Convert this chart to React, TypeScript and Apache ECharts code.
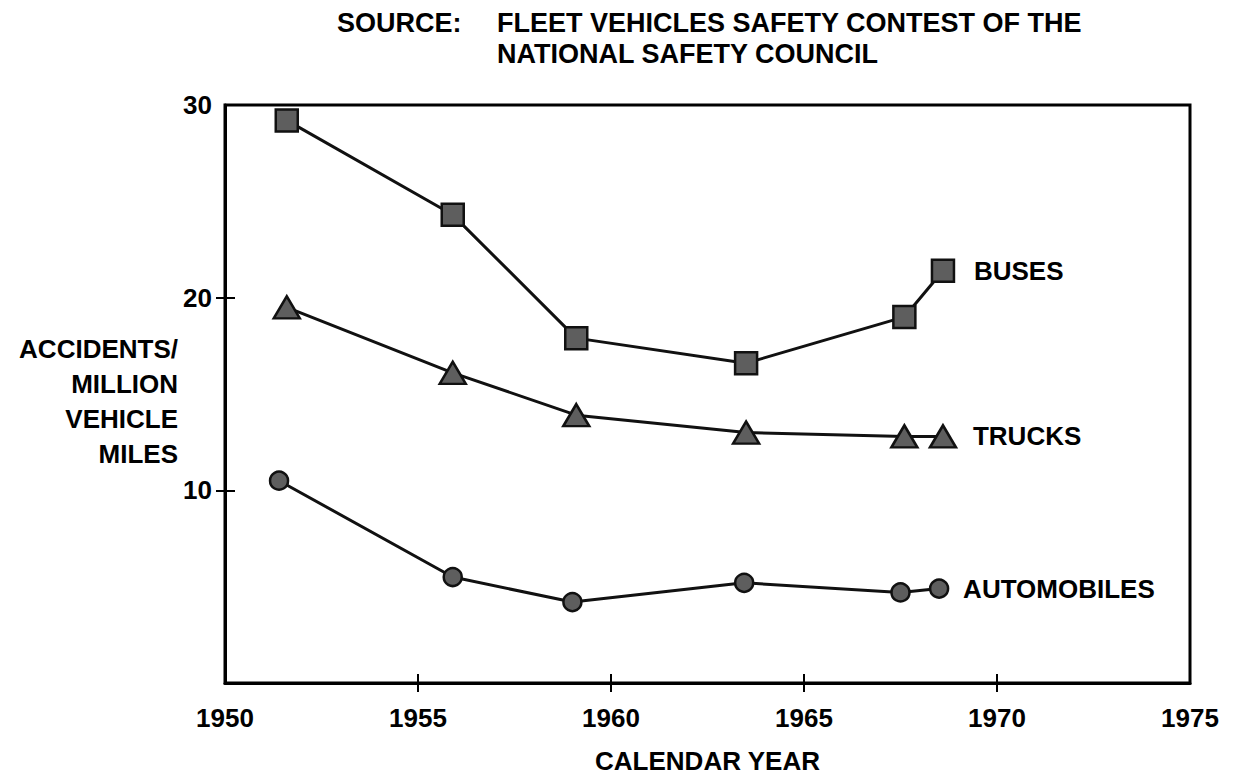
import { useEffect, useRef } from "react";
import * as echarts from "echarts";

// ---- data ----
const busYears = [1951.6, 1955.9, 1959.1, 1963.5, 1967.6, 1968.6];
const busValues = [29.2, 24.3, 17.9, 16.6, 19.0, 21.4];
const truckYears = [1951.6, 1955.9, 1959.1, 1963.5, 1967.6, 1968.6];
const truckValues = [19.5, 16.1, 13.9, 13.0, 12.8, 12.8];
const autoYears = [1951.4, 1955.9, 1959.0, 1963.45, 1967.5, 1968.5];
const autoValues = [10.5, 5.5, 4.2, 5.2, 4.7, 4.9];
const seriesNames = ["BUSES", "TRUCKS", "AUTOMOBILES"];
const xTickValues = [1955, 1960, 1965, 1970];
const yTickValues = [10, 20];
const yLabelValues = [10, 20, 30];
const sourceLabel = "SOURCE:";
const sourceText = "FLEET VEHICLES SAFETY CONTEST OF THE\nNATIONAL SAFETY COUNCIL";
const xAxisName = "CALENDAR YEAR";
const yAxisName = "ACCIDENTS/\nMILLION\nVEHICLE\nMILES";

const FONT = "'Liberation Sans', Arial, sans-serif";

function pairs(xs: number[], ys: number[]) {
  return xs.map((x, i) => [x, ys[i]]);
}

export default function App() {
  const ref = useRef<HTMLDivElement>(null);
  useEffect(() => {
    if (!ref.current) return;
    const chart = echarts.init(ref.current, null, { renderer: "svg" });
    const markerStyle = {
      color: "#5e5e5e",
      borderColor: "#111",
      borderWidth: 2.5,
    };
    const lineStyle = { color: "#111", width: 3 };
    const endLabel = (name: string, distance: number) => ({
      show: true,
      formatter: name,
      distance,
      fontSize: 26,
      fontWeight: "bold",
      color: "#000",
      fontFamily: FONT,
    });
    const tickStyle = { color: "#000", width: 2 };
    const option: any = {
      animation: false,
      backgroundColor: "#fff",
      title: [
        {
          text: sourceLabel,
          left: 337,
          top: 7,
          padding: 0,
          textStyle: { fontSize: 27, fontWeight: "bold", color: "#000", fontFamily: FONT, lineHeight: 31 },
        },
        {
          text: sourceText,
          left: 497,
          top: 7,
          padding: 0,
          textStyle: { fontSize: 27, fontWeight: "bold", color: "#000", fontFamily: FONT, lineHeight: 31 },
        },
      ],
      graphic: [
        {
          type: "text",
          x: 178,
          y: 401,
          silent: true,
          style: {
            text: yAxisName,
            align: "right",
            verticalAlign: "middle",
            fontSize: 26,
            fontWeight: "bold",
            fontFamily: FONT,
            fill: "#000",
            lineHeight: 35,
          },
        },
      ],
      grid: {
        left: 225,
        right: 45,
        top: 105,
        bottom: 92,
        containLabel: false,
        outerBoundsMode: "none",
        show: true,
        borderColor: "#000",
        borderWidth: 3,
        backgroundColor: "transparent",
      },
      xAxis: [
        {
          type: "value",
          min: 1950,
          max: 1975,
          interval: 5,
          position: "bottom",
          axisLine: { show: true, lineStyle: { color: "#000", width: 3 } },
          axisTick: { show: true, inside: false, length: 9, customValues: xTickValues, lineStyle: tickStyle },
          axisLabel: {
            margin: 22,
            fontSize: 26,
            fontWeight: "bold",
            color: "#000",
            fontFamily: FONT,
            formatter: (v: number) => String(v),
          },
          splitLine: { show: false },
          name: xAxisName,
          nameLocation: "middle",
          nameGap: 78,
          nameTextStyle: { fontSize: 26, fontWeight: "bold", color: "#000", fontFamily: FONT, verticalAlign: "middle" },
        },
        {
          type: "value",
          min: 1950,
          max: 1975,
          interval: 5,
          position: "bottom",
          axisLine: { show: false },
          axisTick: { show: true, inside: true, length: 9, customValues: xTickValues, lineStyle: tickStyle },
          axisLabel: { show: false },
          splitLine: { show: false },
        },
      ],
      yAxis: [
        {
          type: "value",
          min: 0,
          max: 30,
          interval: 10,
          position: "left",
          axisLine: { show: true, lineStyle: { color: "#000", width: 3 } },
          axisTick: { show: true, inside: false, length: 9, customValues: yTickValues, lineStyle: tickStyle },
          axisLabel: {
            margin: 13,
            fontSize: 26,
            fontWeight: "bold",
            color: "#000",
            fontFamily: FONT,
            customValues: yLabelValues,
          },
          splitLine: { show: false },
        },
        {
          type: "value",
          min: 0,
          max: 30,
          interval: 10,
          position: "left",
          axisLine: { show: false },
          axisTick: { show: true, inside: true, length: 10, customValues: yTickValues, lineStyle: tickStyle },
          axisLabel: { show: false },
          splitLine: { show: false },
        },
      ],
      series: [
        {
          name: seriesNames[0],
          type: "line",
          data: pairs(busYears, busValues),
          symbol: "rect",
          symbolSize: 22,
          lineStyle,
          itemStyle: markerStyle,
          endLabel: endLabel(seriesNames[0], 31),
        },
        {
          name: seriesNames[1],
          type: "line",
          data: pairs(truckYears, truckValues),
          symbol: "triangle",
          symbolSize: [26, 22],
          lineStyle,
          itemStyle: markerStyle,
          endLabel: endLabel(seriesNames[1], 30),
        },
        {
          name: seriesNames[2],
          type: "line",
          data: pairs(autoYears, autoValues),
          symbol: "circle",
          symbolSize: 18,
          lineStyle,
          itemStyle: markerStyle,
          endLabel: endLabel(seriesNames[2], 24),
        },
      ],
    };
    chart.setOption(option);
    return () => chart.dispose();
  }, []);
  return <div ref={ref} style={{ width: 1235, height: 775, position: "absolute", left: 0, top: 0 }} />;
}
